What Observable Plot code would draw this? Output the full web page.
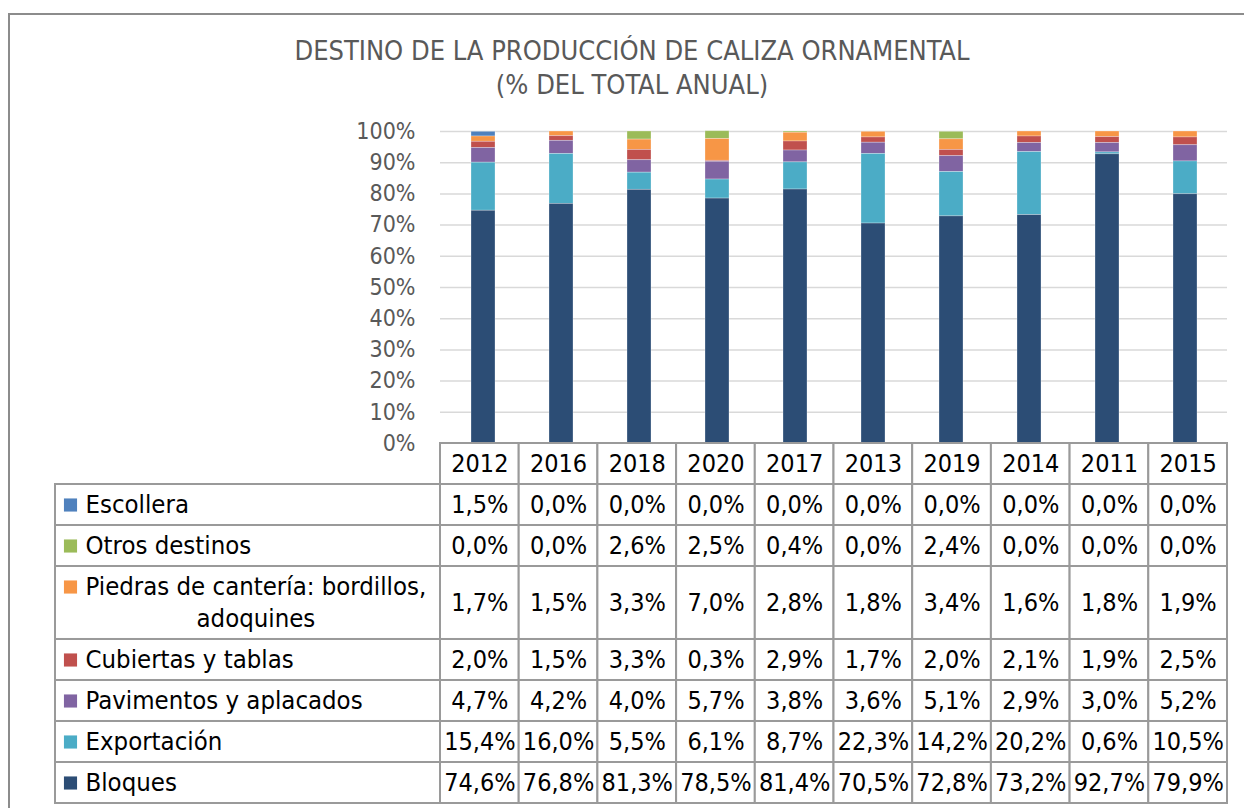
<!DOCTYPE html>
<html>
<head>
<meta charset="utf-8">
<script src="https://cdn.jsdelivr.net/npm/d3@7"></script>
<script src="https://cdn.jsdelivr.net/npm/@observablehq/plot@0.6"></script>
<style>
  html, body { margin: 0; padding: 0; background: #fff; }
  #wrap { position: relative; width: 1244px; height: 808px; overflow: hidden; font-family: "DejaVu Sans Condensed", "Liberation Sans Narrow", "DejaVu Sans", sans-serif; }
  #frame { position: absolute; left: 8px; top: 13px; width: 1400px; height: 1000px; border: 2px solid #8c8c8c; box-sizing: border-box; }
  #title { position: absolute; left: 20px; top: 34px; width: 1224px; text-align: center; color: #595959; font-size: 27px; line-height: 34px; }
  #chart, #table { position: absolute; left: 0; }
  #chart { top: 100px; }
  #table { top: 440px; }
  svg { font-family: "DejaVu Sans Condensed", "Liberation Sans Narrow", "DejaVu Sans", sans-serif; overflow: visible; }
</style>
</head>
<body>
<div id="wrap">
  <div id="frame"></div>
  <div id="title">DESTINO DE LA PRODUCCIÓN DE CALIZA ORNAMENTAL<br>(% DEL TOTAL ANUAL)</div>
  <div id="chart"></div>
  <div id="table"></div>
</div>
<script>
// ---- Data ----
const years = ["2012","2016","2018","2020","2017","2013","2019","2014","2011","2015"];
const seriesNames = [
  "Escollera",
  "Otros destinos",
  "Piedras de cantería: bordillos,\nadoquines",
  "Cubiertas y tablas",
  "Pavimentos y aplacados",
  "Exportación",
  "Bloques"
];
const seriesColors = ["#4f81bd","#9bbb59","#f79646","#c0504d","#8064a2","#4bacc6","#2c4d75"];
const escollera   = [1.5, 0.0, 0.0, 0.0, 0.0, 0.0, 0.0, 0.0, 0.0, 0.0];
const otros       = [0.0, 0.0, 2.6, 2.5, 0.4, 0.0, 2.4, 0.0, 0.0, 0.0];
const piedras     = [1.7, 1.5, 3.3, 7.0, 2.8, 1.8, 3.4, 1.6, 1.8, 1.9];
const cubiertas   = [2.0, 1.5, 3.3, 0.3, 2.9, 1.7, 2.0, 2.1, 1.9, 2.5];
const pavimentos  = [4.7, 4.2, 4.0, 5.7, 3.8, 3.6, 5.1, 2.9, 3.0, 5.2];
const exportacion = [15.4, 16.0, 5.5, 6.1, 8.7, 22.3, 14.2, 20.2, 0.6, 10.5];
const bloques     = [74.6, 76.8, 81.3, 78.5, 81.4, 70.5, 72.8, 73.2, 92.7, 79.9];
const seriesValues = [escollera, otros, piedras, cubiertas, pavimentos, exportacion, bloques];
const yTicks = [0,10,20,30,40,50,60,70,80,90,100];

// ---- Long table ----
const rows = [];
seriesNames.forEach((s, si) => years.forEach((yr, yi) => rows.push({series: s, year: yr, yi, value: seriesValues[si][yi]})));
const stackOrder = seriesNames.slice().reverse(); // bottom to top
const fmt = v => d3.format(".1f")(v).replace(".", ",") + "%";

// ---- Layout ----
const W = 1244;
const frameLeft = 440, frameRight = 1227, tableLeft = 55;
const bandW = (frameRight - frameLeft) / years.length;
const barW = 24.7;
const gray = "#595959";
const borderColor = "#9a9a9a";

// ---- Chart ----
const chart = Plot.plot({
  width: W,
  height: 343,
  marginTop: 31,
  marginBottom: 0,
  marginLeft: frameLeft,
  marginRight: W - frameRight,
  x: {domain: years, padding: 0, axis: null},
  y: {domain: [0, 100], ticks: yTicks, tickFormat: d => d + "%"},
  color: {domain: seriesNames, range: seriesColors},
  marks: [
    Plot.ruleY(yTicks, {stroke: "#d9d9d9", strokeWidth: 1.5}),
    Plot.axisY({ticks: yTicks, tickFormat: d => d + "%", tickSize: 0, tickPadding: 25, fontSize: 23, color: gray, label: null}),
    Plot.barY(rows, Plot.stackY({order: stackOrder}, {
      x: "year", y: "value", fill: "series",
      inset: 0, insetLeft: (bandW - barW) / 2, insetRight: (bandW - barW) / 2,
      stroke: "#ffffff", strokeOpacity: 0.35, strokeWidth: 0.8
    }))
  ]
});
chart.style.color = gray;
document.getElementById("chart").appendChild(chart);

// ---- Table ----
const lineCount = seriesNames.map(s => s.split("\n").length);
const rowH = lineCount.map(n => 1 + 0.78 * (n - 1));
const rowY = [];
let acc = 1; // header row occupies [0,1]
rowH.forEach(h => { rowY.push([acc, acc + h]); acc += h; });
const totalUnits = acc;
const labelUnits = (frameLeft - tableLeft) / bandW;

const cells = rows.map(r => {
  const si = seriesNames.indexOf(r.series);
  return {...r, x1: r.yi, x2: r.yi + 1, y1: rowY[si][0], y2: rowY[si][1], label: fmt(r.value)};
});
const headers = years.map((yr, yi) => ({year: yr, x1: yi, x2: yi + 1, y1: 0, y2: 1}));
const labelRows = seriesNames.map((s, si) => ({series: s, x1: -labelUnits, x2: 0, y1: rowY[si][0], y2: rowY[si][1], lines: s.split("\n")}));

const tableFont = 25;
const labelFont = 25.5;
const ctx = document.createElement("canvas").getContext("2d");
ctx.font = `${labelFont}px "DejaVu Sans Condensed", "Liberation Sans Narrow", "DejaVu Sans", sans-serif`;
const textStart = 30, swatchX = 15;

const labelLines = [];
labelRows.forEach(r => {
  if (r.lines.length === 1) {
    labelLines.push({series: r.series, text: r.lines[0], y: (r.y1 + r.y2) / 2, anchor: "start", dx: textStart});
  } else {
    const w0 = ctx.measureText(r.lines[0]).width;
    r.lines.forEach((ln, li) => {
      const yy = r.y1 + 0.5 + li * 0.78;
      if (li === 0) labelLines.push({series: r.series, text: ln, y: yy, anchor: "start", dx: textStart});
      else labelLines.push({series: r.series, text: ln, y: yy, anchor: "middle", dx: textStart + w0 / 2});
    });
  }
});
const swatches = labelRows.map(r => ({series: r.series, y: r.y1 + 0.5}));

const table = Plot.plot({
  width: W,
  height: 368,
  marginTop: 3,
  marginBottom: 5,
  marginLeft: tableLeft,
  marginRight: W - frameRight,
  x: {type: "linear", domain: [-labelUnits, years.length], axis: null},
  y: {type: "linear", domain: [totalUnits, 0], axis: null},
  color: {domain: seriesNames, range: seriesColors},
  marks: [
    Plot.rect(labelRows, {x1: "x1", x2: "x2", y1: "y1", y2: "y2", fill: "white", stroke: borderColor, strokeWidth: 2}),
    Plot.rect(headers, {x1: "x1", x2: "x2", y1: "y1", y2: "y2", fill: "white", stroke: borderColor, strokeWidth: 2}),
    Plot.rect(cells, {x1: "x1", x2: "x2", y1: "y1", y2: "y2", fill: "white", stroke: borderColor, strokeWidth: 2}),
    Plot.text(headers, {x: d => (d.x1 + d.x2) / 2, y: 0.5, text: "year", fontSize: tableFont, fill: "black"}),
    Plot.text(cells, {x: d => (d.x1 + d.x2) / 2, y: d => (d.y1 + d.y2) / 2, text: "label", fontSize: tableFont, fill: "black"}),
    ...labelLines.map(l => Plot.text([l], {y: "y", text: "text", frameAnchor: "left", textAnchor: l.anchor, dx: l.dx, fontSize: labelFont, fill: "black"})),
    Plot.dot(swatches, {y: "y", frameAnchor: "left", dx: swatchX, symbol: "square", r: 7.4, fill: "series", stroke: null})
  ]
});
document.getElementById("table").appendChild(table);
</script>
</body>
</html>
